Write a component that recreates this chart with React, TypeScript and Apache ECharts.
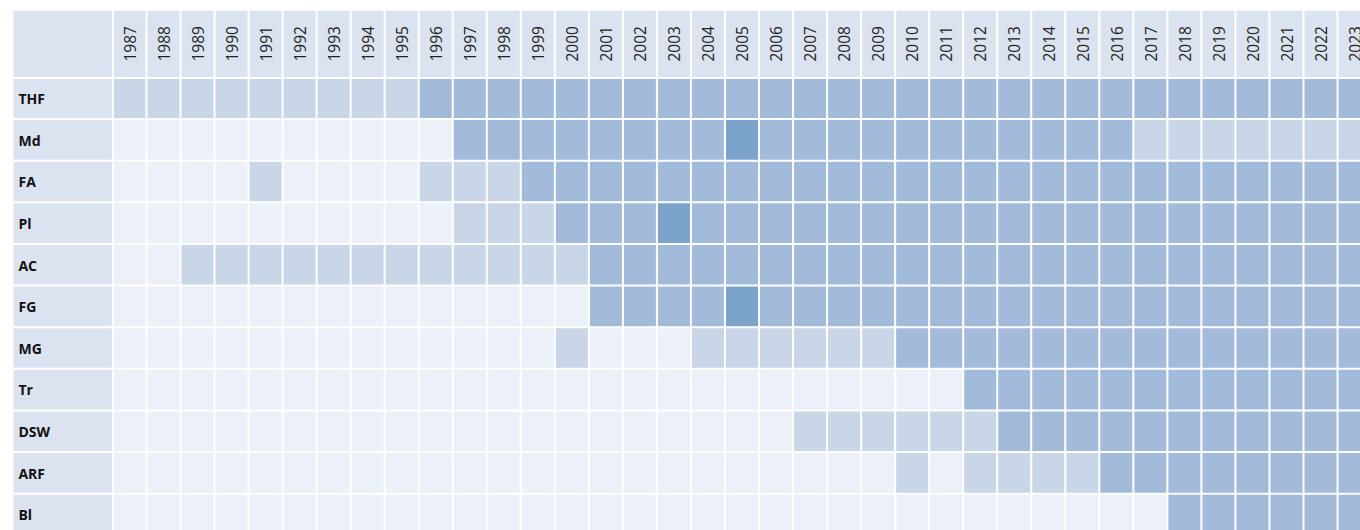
import React, { useEffect, useRef } from "react";
import * as echarts from "echarts";

const years = [
  "1987", "1988", "1989", "1990", "1991", "1992", "1993", "1994", "1995", "1996",
  "1997", "1998", "1999", "2000", "2001", "2002", "2003", "2004", "2005", "2006",
  "2007", "2008", "2009", "2010", "2011", "2012", "2013", "2014", "2015", "2016",
  "2017", "2018", "2019", "2020", "2021", "2022", "2023",
];

const rows = ["THF", "Md", "FA", "Pl", "AC", "FG", "MG", "Tr", "DSW", "ARF", "Bl"];

// 0 = none, 1 = light, 2 = medium, 3 = dark
const THF = [1, 1, 1, 1, 1, 1, 1, 1, 1, 2, 2, 2, 2, 2, 2, 2, 2, 2, 2, 2, 2, 2, 2, 2, 2, 2, 2, 2, 2, 2, 2, 2, 2, 2, 2, 2, 2];
const Md = [0, 0, 0, 0, 0, 0, 0, 0, 0, 0, 2, 2, 2, 2, 2, 2, 2, 2, 3, 2, 2, 2, 2, 2, 2, 2, 2, 2, 2, 2, 1, 1, 1, 1, 1, 1, 1];
const FA = [0, 0, 0, 0, 1, 0, 0, 0, 0, 1, 1, 1, 2, 2, 2, 2, 2, 2, 2, 2, 2, 2, 2, 2, 2, 2, 2, 2, 2, 2, 2, 2, 2, 2, 2, 2, 2];
const Pl = [0, 0, 0, 0, 0, 0, 0, 0, 0, 0, 1, 1, 1, 2, 2, 2, 3, 2, 2, 2, 2, 2, 2, 2, 2, 2, 2, 2, 2, 2, 2, 2, 2, 2, 2, 2, 2];
const AC = [0, 0, 1, 1, 1, 1, 1, 1, 1, 1, 1, 1, 1, 1, 2, 2, 2, 2, 2, 2, 2, 2, 2, 2, 2, 2, 2, 2, 2, 2, 2, 2, 2, 2, 2, 2, 2];
const FG = [0, 0, 0, 0, 0, 0, 0, 0, 0, 0, 0, 0, 0, 0, 2, 2, 2, 2, 3, 2, 2, 2, 2, 2, 2, 2, 2, 2, 2, 2, 2, 2, 2, 2, 2, 2, 2];
const MG = [0, 0, 0, 0, 0, 0, 0, 0, 0, 0, 0, 0, 0, 1, 0, 0, 0, 1, 1, 1, 1, 1, 1, 2, 2, 2, 2, 2, 2, 2, 2, 2, 2, 2, 2, 2, 2];
const Tr = [0, 0, 0, 0, 0, 0, 0, 0, 0, 0, 0, 0, 0, 0, 0, 0, 0, 0, 0, 0, 0, 0, 0, 0, 0, 2, 2, 2, 2, 2, 2, 2, 2, 2, 2, 2, 2];
const DSW = [0, 0, 0, 0, 0, 0, 0, 0, 0, 0, 0, 0, 0, 0, 0, 0, 0, 0, 0, 0, 1, 1, 1, 1, 1, 1, 2, 2, 2, 2, 2, 2, 2, 2, 2, 2, 2];
const ARF = [0, 0, 0, 0, 0, 0, 0, 0, 0, 0, 0, 0, 0, 0, 0, 0, 0, 0, 0, 0, 0, 0, 0, 1, 0, 1, 1, 1, 1, 2, 2, 2, 2, 2, 2, 2, 2];
const Bl = [0, 0, 0, 0, 0, 0, 0, 0, 0, 0, 0, 0, 0, 0, 0, 0, 0, 0, 0, 0, 0, 0, 0, 0, 0, 0, 0, 0, 0, 0, 0, 2, 2, 2, 2, 2, 2];

const rowValues = [THF, Md, FA, Pl, AC, FG, MG, Tr, DSW, ARF, Bl];

const HEADER = 4;
const FONT = "'Open Sans', 'Noto Sans', sans-serif";

export default function App() {
  const ref = useRef<HTMLDivElement>(null);

  useEffect(() => {
    if (!ref.current) return;
    const chart = echarts.init(ref.current, undefined, { renderer: "svg" });

    const mainData: number[][] = [];
    rowValues.forEach((vals, r) => vals.forEach((v, c) => mainData.push([c, r, v])));
    const labelData = rows.map((_, r) => [0, r, HEADER]);
    const headerData = years.map((_, c) => [c, 0, HEADER]);

    const left0 = 12.7;
    const leftMain = 112.7;
    const colW = 34.03;
    const top0 = 10;
    const topMain = 77.7;
    const rowH = 41.63;
    const mainW = colW * years.length;
    const mainH = rowH * rows.length;

    const cellStyle = { borderColor: "#ffffff", borderWidth: 2 };

    chart.setOption({
      animation: false,
      backgroundColor: "#ffffff",
      grid: [
        { left: leftMain, top: topMain, width: mainW, height: mainH, outerBoundsMode: "none" },
        { left: left0, top: topMain, width: leftMain - left0, height: mainH, outerBoundsMode: "none" },
        { left: leftMain, top: top0, width: mainW, height: topMain - top0, outerBoundsMode: "none" },
        { left: left0, top: top0, width: leftMain - left0, height: topMain - top0, outerBoundsMode: "none" },
      ],
      xAxis: [
        { type: "category", data: years, gridIndex: 0, show: false },
        { type: "category", data: [""], gridIndex: 1, show: false },
        { type: "category", data: years, gridIndex: 2, show: false },
        { type: "category", data: [""], gridIndex: 3, show: false },
      ],
      yAxis: [
        { type: "category", data: rows, gridIndex: 0, inverse: true, show: false },
        { type: "category", data: rows, gridIndex: 1, inverse: true, show: false },
        { type: "category", data: [""], gridIndex: 2, show: false },
        { type: "category", data: [""], gridIndex: 3, show: false },
      ],
      visualMap: {
        type: "piecewise",
        show: false,
        dimension: 2,
        pieces: [
          { value: 0, color: "#ecf0f8" },
          { value: 1, color: "#c9d6e8" },
          { value: 2, color: "#a3bbdb" },
          { value: 3, color: "#7ba3cc" },
          { value: 4, color: "#dce3f0" },
        ],
      },
      series: [
        {
          type: "heatmap",
          xAxisIndex: 0,
          yAxisIndex: 0,
          data: mainData,
          itemStyle: cellStyle,
          emphasis: { disabled: true },
        },
        {
          type: "heatmap",
          xAxisIndex: 1,
          yAxisIndex: 1,
          data: labelData,
          itemStyle: cellStyle,
          emphasis: { disabled: true },
          label: {
            show: true,
            position: "insideLeft",
            distance: 7,
            formatter: (p: any) => rows[p.data[1]],
            fontFamily: FONT,
            fontWeight: "bold",
            fontSize: 14,
            color: "#111111",
          },
        },
        {
          type: "heatmap",
          xAxisIndex: 2,
          yAxisIndex: 2,
          data: headerData,
          itemStyle: cellStyle,
          emphasis: { disabled: true },
          label: {
            show: true,
            position: "inside",
            rotate: 90,
            formatter: (p: any) => years[p.data[0]],
            fontFamily: FONT,
            fontSize: 15.5,
            color: "#222222",
          },
        },
        {
          type: "heatmap",
          xAxisIndex: 3,
          yAxisIndex: 3,
          data: [[0, 0, HEADER]],
          itemStyle: cellStyle,
          emphasis: { disabled: true },
        },
      ],
    });

    return () => chart.dispose();
  }, []);

  return (
    <div
      ref={ref}
      style={{ position: "fixed", left: 0, top: 0, width: 1360, height: 530 }}
    />
  );
}
